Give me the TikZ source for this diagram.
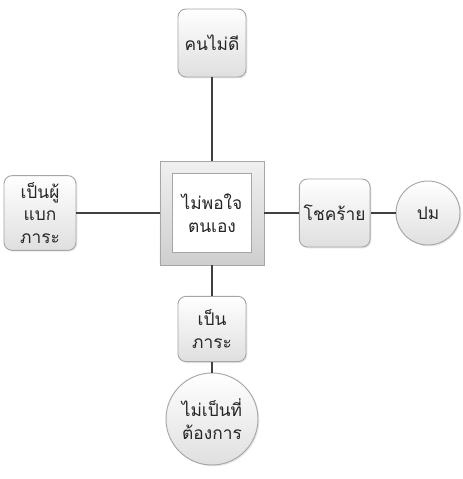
\documentclass[tikz,border=0pt]{standalone}
\usepackage{fontspec}
\newfontfamily\thaifont[Script=Thai]{Loma}
\usetikzlibrary{positioning}
\usetikzlibrary{shadows}

\tikzset{
    cause/.style = {rectangle, rounded corners = 6pt, draw = gray!70, line width = 0.7pt,
        top color = white, bottom color = gray!25, align = center,
        font = \thaifont\fontsize{13}{17}\selectfont, text = black!85,
        drop shadow = {opacity = 0.2, shadow xshift = 1pt, shadow yshift = -1pt}},
    result/.style = {circle, draw = gray!70, line width = 0.7pt,
        top color = white, bottom color = gray!25, align = center,
        font = \thaifont\fontsize{13}{17}\selectfont, text = black!85,
        drop shadow = {opacity = 0.2, shadow xshift = 1pt, shadow yshift = -1pt}},
    link/.style = {draw = black!75, line width = 1.8pt}
}

\begin{document}
\begin{tikzpicture}[line width = 1pt]

    \useasboundingbox (-159pt,159.75pt) rectangle (187.5pt,-199.5pt);

    % central frame
    \node (selfout) at (0,0) [rectangle, minimum size = 78pt, draw = gray!70, line width = 0.7pt,
        top color = gray!12, bottom color = gray!38,
        drop shadow = {opacity = 0.2, shadow xshift = 1pt, shadow yshift = -1pt}] {};
    \node (self) at (0,0) [rectangle, minimum size = 59pt, draw = gray!70, line width = 0.7pt,
        fill = white, align = center, font = \thaifont\fontsize{13}{17}\selectfont, text = black!85]
        {ไม่พอใจ\\ตนเอง};

    \begin{scope}[on grid]

        \node (bad) [cause, minimum width = 51pt, minimum height = 51pt, above = 127.5pt of self] {คนไม่ดี};
        \node (burden) [cause, minimum width = 54pt, minimum height = 56pt, left = 129pt of self]
            {เป็นผู้\\แบก\\ภาระ};
        \node (luck) [cause, minimum width = 53pt, minimum height = 51pt, right = 92pt of self] {โชคร้าย};
        \node (knot) [result, minimum size = 48pt, right = 70pt of luck] {ปม};
        \node (load) [cause, minimum width = 51pt, minimum height = 49pt, below = 87pt of self]
            {เป็น\\ภาระ};
        \node (unwanted) [result, minimum size = 69pt, below = 67.5pt of load]
            {ไม่เป็นที่\\ต้องการ};

    \end{scope}

    \draw[link] (bad) -- (selfout);
    \draw[link] (burden) -- (selfout);
    \draw[link] (selfout) -- (luck);
    \draw[link] (luck) -- (knot);
    \draw[link] (selfout) -- (load);
    \draw[link] (load) -- (unwanted);

\end{tikzpicture}
\end{document}
